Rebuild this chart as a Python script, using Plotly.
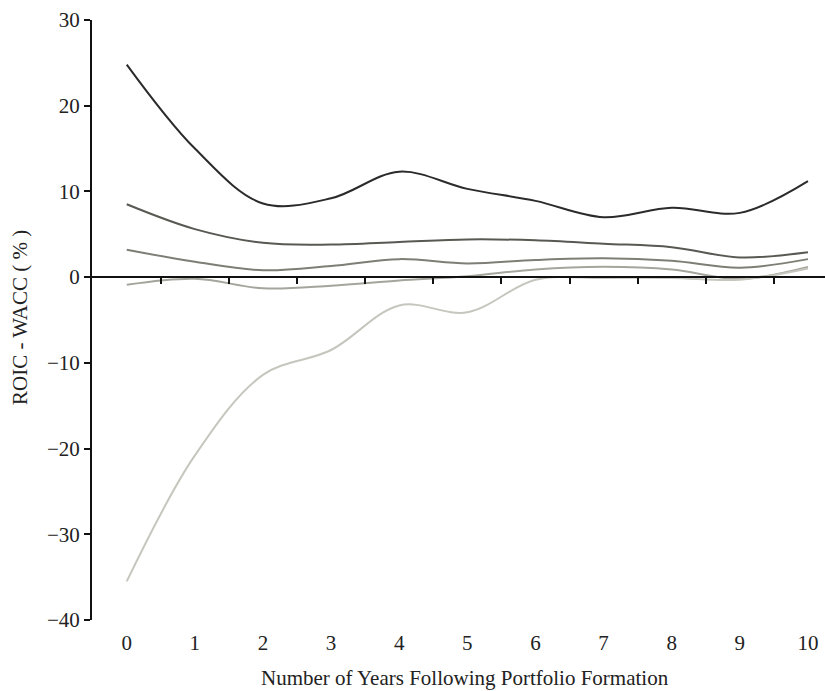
import plotly.graph_objects as go

years = [0, 1, 2, 3, 4, 5, 6, 7, 8, 9, 10]
series_1 = [24.8, 15.0, 8.6, 9.2, 12.3, 10.3, 8.9, 7.0, 8.1, 7.5, 11.2]
series_2 = [8.5, 5.6, 4.0, 3.8, 4.1, 4.4, 4.3, 3.9, 3.5, 2.3, 2.9]
series_3 = [3.2, 1.8, 0.8, 1.3, 2.1, 1.6, 2.0, 2.2, 1.9, 1.1, 2.1]
series_4 = [-0.9, -0.2, -1.3, -1.0, -0.4, 0.1, 0.9, 1.2, 0.9, -0.2, 1.2]
series_5 = [-35.5, -20.8, -11.4, -8.5, -3.3, -4.1, -0.3, -0.1, -0.1, -0.3, 1.0]

x_tick_labels = [str(v) for v in years]
half_year_ticks = [0.5, 1.5, 2.5, 3.5, 4.5, 5.5, 6.5, 7.5, 8.5, 9.5]
y_ticks = [30, 20, 10, 0, -10, -20, -30, -40]

colors = ["#2b2b2b", "#595953", "#7e7e76", "#a5a59d", "#c6c6be"]
all_series = [series_1, series_2, series_3, series_4, series_5]

fig = go.Figure()
for s, c in zip(all_series, colors):
    fig.add_trace(go.Scatter(
        x=years, y=s, mode="lines",
        line=dict(color=c, width=2, shape="spline", smoothing=1.0),
        showlegend=False, hoverinfo="skip",
    ))

# invisible trace so the zero-line axis is drawn
fig.add_trace(go.Scatter(x=years, y=series_1, xaxis="x2", mode="lines",
                         line=dict(width=0), opacity=0, showlegend=False,
                         hoverinfo="skip"))

font = dict(family="Liberation Serif", size=21, color="#222222")
xr = [-0.51, 10.25]
yr = [-40, 30]

fig.update_layout(
    width=825, height=691,
    margin=dict(l=92, r=0, t=20, b=71),
    paper_bgcolor="white", plot_bgcolor="white",
    font=font,
    xaxis=dict(
        range=xr, tickvals=years, ticktext=x_tick_labels,
        ticks="", showline=False, showgrid=False, zeroline=False,
        ticklabelstandoff=8, tickfont=font, automargin=False,
    ),
    xaxis2=dict(
        range=xr, overlaying="x", anchor="free",
        position=(0 - yr[0]) / (yr[1] - yr[0]), side="bottom",
        showline=True, linecolor="#111111", linewidth=2,
        tickvals=half_year_ticks, ticks="outside", ticklen=6, tickwidth=2,
        tickcolor="#111111", showticklabels=False, showgrid=False,
        zeroline=False, automargin=False,
    ),
    yaxis=dict(
        range=yr, tickvals=y_ticks, showline=True, linecolor="#111111",
        linewidth=2, ticks="outside", ticklen=6, tickwidth=2,
        tickcolor="#111111", showgrid=False, zeroline=False,
        tickfont=font, automargin=False,
    ),
    annotations=[
        dict(text="Number of Years Following Portfolio Formation",
             xref="paper", yref="paper", x=(465 - 92) / 733, y=-58 / 600,
             xanchor="center", yanchor="middle", showarrow=False, font=font),
        dict(text="ROIC - WACC ( % )", textangle=-90,
             xref="paper", yref="paper", x=(20 - 92) / 733, y=(620 - 318) / 600,
             xanchor="center", yanchor="middle", showarrow=False, font=font),
    ],
)

fig.write_html("out.html", config={"displayModeBar": False},
               post_script="document.body.style.margin='0';document.body.style.padding='0';")
